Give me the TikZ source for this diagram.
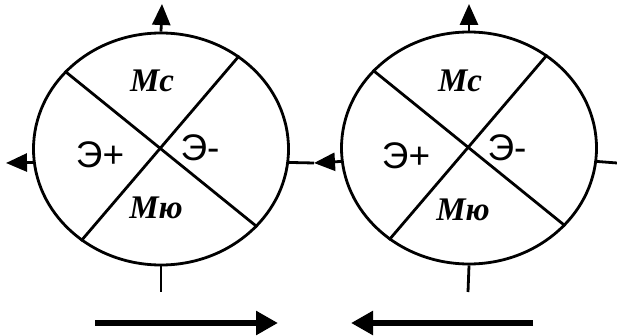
\documentclass[tikz,border=0pt]{standalone}
\usepackage{fontspec}
\setmainfont{Liberation Serif}
\newfontfamily\sansfnt{Liberation Sans}
\usetikzlibrary{shapes.geometric,arrows.meta}

\begin{document}
\begin{tikzpicture}[x=1pt, y=-1pt, line width=2.8pt,
  wheel/.style={draw, ellipse, minimum width=255pt, minimum height=232pt, inner sep=0pt},
  mlbl/.style={font=\fontsize{33}{36}\selectfont\bfseries\itshape, inner sep=0pt},
  elbl/.style={font=\sansfnt\fontsize{37}{40}\selectfont, inner sep=0pt},
  outarrow/.style={-{Triangle[length=21pt, width=18pt]}},
  flow/.style={line width=6.5pt, -{Triangle[length=22pt, width=23pt]}}]
\useasboundingbox (0,0) rectangle (617,336);

% left wheel
\node[wheel] (L) at (161,149) {};
\draw (L.141) -- (L.-39);
\draw (L.50) -- (L.229);
\node[mlbl] (Lmc) at (152,81) {Mc};
\node[elbl] (Lep) at (100,155) {Э+};
\node[elbl] (Lem) at (200,148) {Э-};
\node[mlbl] (Lmu) at (156,208) {Mю};

% right wheel
\node[wheel] (R) at (469,148) {};
\draw (R.141) -- (R.-39);
\draw (R.50) -- (R.229);
\node[mlbl] (Rmc) at (460,81) {Mc};
\node[elbl] (Rep) at (406,156) {Э+};
\node[elbl] (Rem) at (507,148) {Э-};
\node[mlbl] (Rmu) at (463,210) {Mю};

% stubs and outputs
\coordinate (Ltop) at (162,4);
\coordinate (Lleft) at (6,163);
\coordinate (mid) at (314,163);
\coordinate (Lbot) at (161,292);
\coordinate (Rtop) at (469,4);
\coordinate (Rright) at (617,163);
\coordinate (Rbot) at (468,292);
\draw[outarrow] (L.north) -- (Ltop);
\draw[outarrow] (L.186) -- (Lleft);
\draw (L.354) -- (mid);
\draw (L.south) -- (Lbot);
\draw[outarrow] (R.north) -- (Rtop);
\draw[outarrow] (R.186) -- (mid);
\draw (R.354) -- (Rright);
\draw (R.south) -- (Rbot);

% directions
\coordinate (a1) at (95,323);
\coordinate (a2) at (278,323);
\coordinate (b1) at (533,323);
\coordinate (b2) at (351,323);
\draw[flow] (a1) -- (a2);
\draw[flow] (b1) -- (b2);
\end{tikzpicture}
\end{document}
